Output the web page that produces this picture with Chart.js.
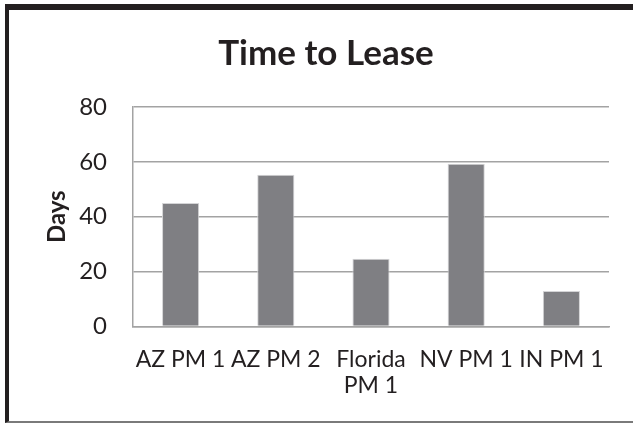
<!DOCTYPE html>
<html>
<head>
<meta charset="utf-8">
<script src="https://cdn.jsdelivr.net/npm/chart.js@4"></script>
<style>
    body { margin: 0; background: #fff; }
    #frame {
        position: absolute; left: 5px; top: 4px; width: 624px; height: 411px;
        border-left: 4px solid #231f20; border-top: 6px solid #231f20; border-bottom: 2px solid #7a7a7a;
    }
    #wrap { position: absolute; left: 0; top: 0; width: 624px; height: 411px; }
</style>
</head>
<body>
<div id="frame"><div id="wrap"><canvas id="leaseChart"></canvas></div></div>
<script>
// Time to Lease data
const categories = ['AZ PM 1', 'AZ PM 2', ['Florida', 'PM 1'], 'NV PM 1', 'IN PM 1'];
const days = [45, 55.3, 24.7, 59.3, 12.9];
const yTicks = [0, 20, 40, 60, 80];

const gridGray = '#a3a3a3';
const ctx = document.getElementById('leaseChart').getContext('2d');
const leaseChart = new Chart(ctx, {
    type: 'bar',
    data: {
        labels: categories,
        datasets: [
            {
                label: 'Days',
                data: days,
                backgroundColor: '#7f7f83',
                borderColor: '#d4d4d6',
                borderWidth: 1,
                barPercentage: 0.39,
                categoryPercentage: 1
            }
        ]
    },
    options: {
        responsive: true,
        maintainAspectRatio: false,
        animation: false,
        layout: {
            padding: { left: 34, right: 24, top: 0, bottom: 2 }
        },
        plugins: {
            legend: { display: false },
            tooltip: { enabled: false },
            title: {
                display: true,
                text: 'Time to Lease',
                color: '#231f20',
                font: { family: 'Lato', size: 35, weight: 'bold' },
                padding: { top: 23, bottom: 32 }
            }
        },
        scales: {
            y: {
                min: 0,
                max: 80,
                afterBuildTicks: axis => {
                    axis.ticks = yTicks.map(v => ({ value: v }));
                },
                afterFit: axis => {
                    axis.width = 90;
                },
                border: { display: true, color: gridGray, width: 1.5 },
                grid: { color: gridGray, lineWidth: 1.5, drawTicks: false },
                ticks: {
                    color: '#231f20',
                    padding: 26,
                    font: { family: 'Lato', size: 24 }
                },
                title: {
                    display: true,
                    text: 'Days',
                    color: '#231f20',
                    font: { family: 'Lato', size: 24, weight: 'bold' },
                    padding: { top: 0, bottom: 0 }
                }
            },
            x: {
                border: { display: true, color: gridGray, width: 1.5 },
                grid: { display: false, drawTicks: false },
                ticks: {
                    color: '#231f20',
                    padding: 21,
                    maxRotation: 0,
                    autoSkip: false,
                    font: { family: 'Lato', size: 23, lineHeight: 1.1 }
                }
            }
        }
    }
});
</script>
</body>
</html>
